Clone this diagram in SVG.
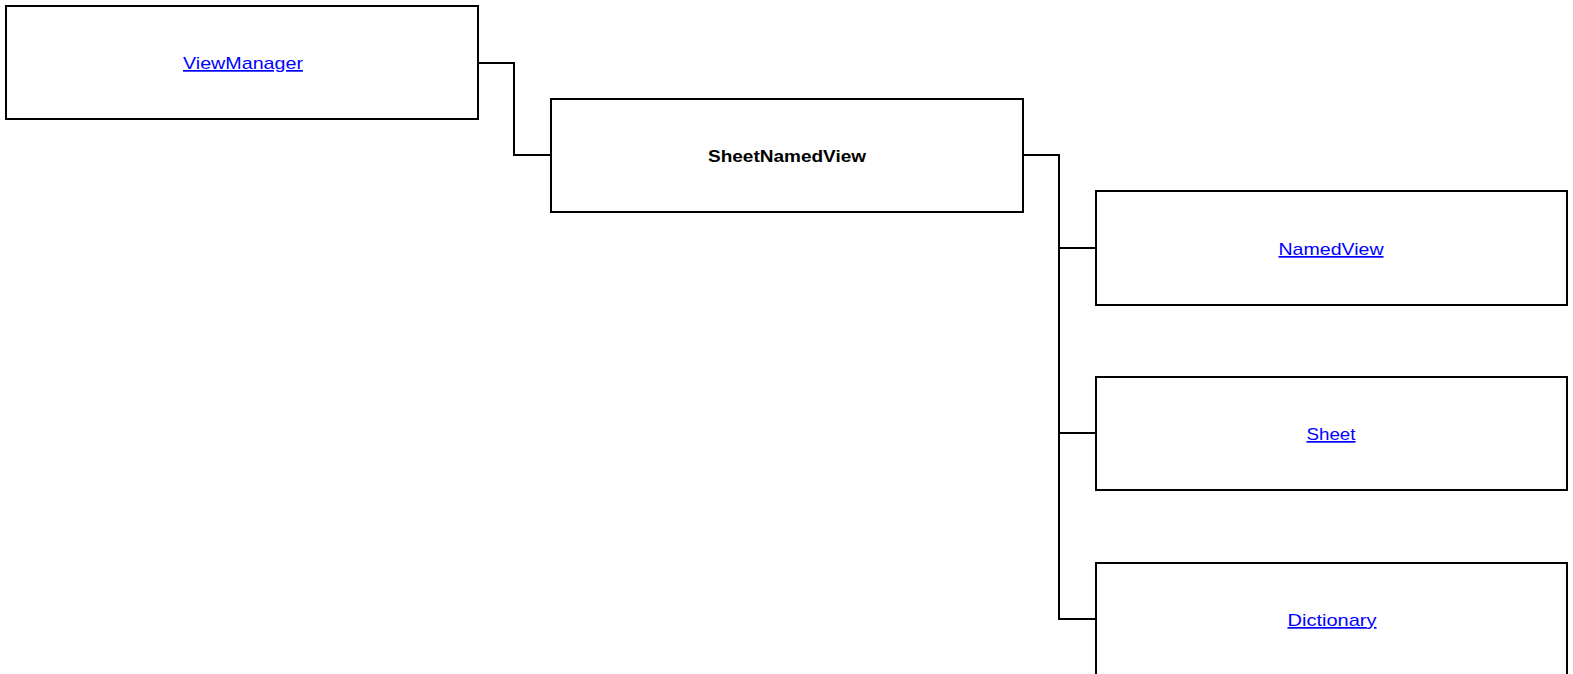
<svg xmlns="http://www.w3.org/2000/svg" width="1573" height="674" viewBox="0 0 1573 674">
<style>
.box{fill:#fff;stroke:#000;stroke-width:2}
.lnk{font-family:"Liberation Sans",Arial,sans-serif;font-size:17px;fill:#0000ff;text-decoration:underline;text-anchor:middle}
.bold{font-family:"Liberation Sans",Arial,sans-serif;font-size:17px;font-weight:bold;fill:#000;text-anchor:middle}
.conn{fill:none;stroke:#000;stroke-width:2}
</style>
<rect width="1573" height="674" fill="#fff"/>
<g id="connectors">
<polyline class="conn" points="478,63 514,63 514,155 551,155"/>
<polyline class="conn" points="1023,155 1059,155 1059,619 1096,619"/>
<line class="conn" x1="1059" y1="248" x2="1096" y2="248"/>
<line class="conn" x1="1059" y1="433" x2="1096" y2="433"/>
</g>
<g id="ViewManager">
<rect class="box" x="6" y="6" width="472" height="113"/>
<text class="lnk" x="243" y="69" textLength="120" lengthAdjust="spacingAndGlyphs">ViewManager</text>
</g>
<g id="SheetNamedView">
<rect class="box" x="551" y="99" width="472" height="113"/>
<text class="bold" x="787" y="162" textLength="158" lengthAdjust="spacingAndGlyphs">SheetNamedView</text>
</g>
<g id="NamedView">
<rect class="box" x="1096" y="191" width="471" height="114"/>
<text class="lnk" x="1331" y="255" textLength="105" lengthAdjust="spacingAndGlyphs">NamedView</text>
</g>
<g id="Sheet">
<rect class="box" x="1096" y="377" width="471" height="113"/>
<text class="lnk" x="1331" y="440" textLength="49" lengthAdjust="spacingAndGlyphs">Sheet</text>
</g>
<g id="Dictionary">
<rect class="box" x="1096" y="563" width="471" height="130"/>
<text class="lnk" x="1332" y="626" textLength="89" lengthAdjust="spacingAndGlyphs">Dictionary</text>
</g>
</svg>
